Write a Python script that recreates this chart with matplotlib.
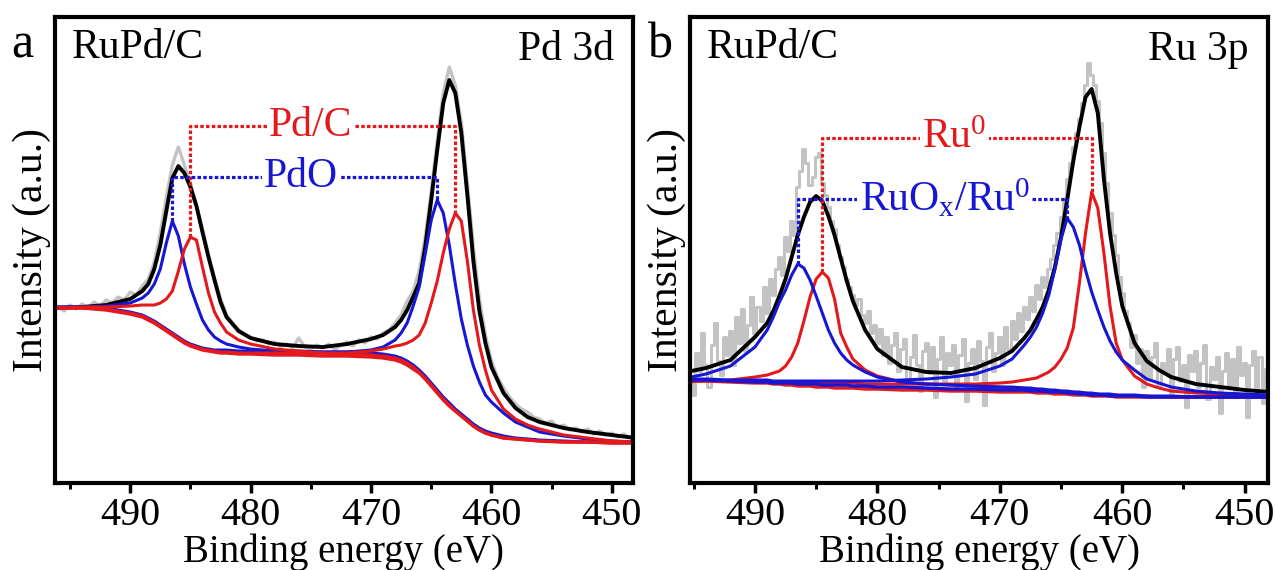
import numpy as np
import matplotlib
matplotlib.use("Agg")
import matplotlib.pyplot as plt
from matplotlib.ticker import MultipleLocator

plt.rcParams['font.family'] = ['Liberation Serif', 'DejaVu Serif']
plt.rcParams['mathtext.fontset'] = 'custom'
plt.rcParams['mathtext.rm'] = 'Liberation Serif'
plt.rcParams['mathtext.it'] = 'Liberation Serif:italic'

RED = '#e3191c'
BLUE = '#1616d4'
GRAY = '#c3c3c3'

# binding energies (eV) where the fitted curves are tabulated
fit_ev = [496, 494, 492, 490, 489, 488.5, 488, 487.5, 487, 486.5, 486, 485.5,
          485, 484.5, 484, 483.5, 483, 482.5, 482, 481, 480, 478, 476, 474,
          472, 470, 469, 468, 467.5, 467, 466.5, 466, 465.5, 465, 464.5, 464,
          463.5, 463, 462.5, 462, 461.5, 461, 460.5, 460, 459, 458, 457, 456,
          454, 452, 450, 448]
# raw spectra: Pd 3d every 0.5 eV, Ru 3p every 0.25 eV, both 496 -> 448
pd_raw_ev = np.arange(496, 447.75, -0.5)
ru_raw_ev = np.arange(496, 447.9, -0.25)

# ---- Pd 3d ----
pd_raw = [176, 172, 178, 174, 179, 175, 181, 177, 183, 180,
          186, 183, 191, 188, 197, 204, 221, 250, 286, 318,
          336, 318, 300, 278, 254, 228, 205, 184, 168, 160,
          153, 149, 146, 142, 143, 139, 141, 136, 139, 135,
          145, 136, 134, 138, 135, 139, 133, 138, 141, 137,
          143, 140, 146, 144, 150, 153, 160, 168, 182, 192,
          212, 246, 292, 342, 390, 416, 398, 360, 300, 236,
          184, 148, 122, 106, 95, 86, 79, 74, 71, 66,
          64, 60, 62, 56, 58, 53, 55, 51, 54, 49,
          52, 48, 50, 46, 49, 45, 47]
pd_envelope = [175, 176, 178, 184, 192, 199, 214, 238, 272, 305, 317, 310,
               296, 277, 251, 226, 203, 181, 166, 152, 145, 139, 137, 136,
               139, 144, 148, 156, 163, 173, 186, 200, 236, 283, 333, 380,
               403, 390, 350, 288, 222, 172, 140, 116, 90, 75, 66, 61,
               55, 51, 48, 45]
pd_background = [175, 175, 173, 169, 166, 163, 160, 156, 152, 148, 144, 140,
                 137, 135, 133, 132, 131, 130, 130, 129, 129, 128, 128, 127,
                 127, 126, 125, 123, 121, 118, 114, 110, 104, 97, 90, 83,
                 77, 72, 67, 62, 57, 53, 50, 48, 45, 44, 43, 42,
                 41, 41, 40, 40]
pd_metal_32 = [175, 176, 176, 177, 178, 178, 178, 180, 184, 192, 212, 234,
               246, 243, 216, 190, 171, 160, 151, 143, 139, 134, 132, 130,
               129, 128, 127, 125, 123, 120, 116, 111, 105, 98, 91, 84,
               78, 72, 67, 62, 57, 53, 50, 48, 45, 44, 43, 42,
               41, 41, 40, 40]
pd_metal_52 = [175, 175, 174, 170, 167, 164, 161, 157, 153, 149, 145, 141,
               138, 136, 134, 133, 132, 131, 131, 130, 130, 130, 130, 130,
               130, 132, 134, 137, 138, 140, 143, 148, 160, 180, 202, 230,
               254, 270, 262, 222, 173, 138, 113, 93, 74, 64, 58, 54,
               48, 45, 42, 41]
pdo_32 = [176, 176, 177, 180, 185, 190, 199, 214, 240, 262, 247, 219,
          196, 179, 163, 153, 146, 142, 139, 136, 134, 132, 131, 131,
          131, 130, 129, 127, 125, 122, 118, 113, 107, 100, 93, 86,
          80, 74, 69, 64, 59, 55, 52, 50, 47, 45, 44, 43,
          42, 41, 41, 40]
pdo_52 = [176, 176, 175, 171, 168, 165, 162, 158, 154, 150, 146, 142,
          139, 137, 135, 134, 133, 133, 133, 132, 132, 132, 132, 131,
          131, 133, 136, 143, 150, 160, 177, 196, 229, 263, 283, 270,
          238, 199, 164, 138, 117, 101, 88, 81, 70, 61, 56, 51,
          47, 44, 42, 41]

# ---- Ru 3p ----
ru_raw = [126, 98, 142, 104, 88, 130, 112, 150,      # 496 - 494.25
          118, 96, 138, 160, 122, 108, 146, 128,     # 494 - 492.25
          152, 118, 166, 140, 174, 132, 158, 186,    # 492 - 490.25
          150, 176, 162, 196, 170, 204, 188, 214,    # 490 - 488.25
          226, 208, 246, 232, 262, 248, 296, 312,    # 488 - 486.25
          334, 320, 298, 306, 326, 330, 300, 288,    # 486 - 484.25
          276, 262, 254, 238, 226, 216, 204, 196,    # 484 - 482.25
          188, 178, 184, 168, 160, 172, 150, 158,    # 482 - 480.25
          140, 154, 128, 146, 120, 138, 150, 112,    # 480 - 478.25
          134, 144, 104, 126, 148, 118, 92, 132,     # 478 - 476.25
          140, 110, 136, 86, 124, 146, 100, 130,     # 476 - 474.25
          118, 138, 96, 128, 144, 82, 120, 134,      # 474 - 472.25
          104, 142, 122, 78, 136, 150, 112, 130,     # 472 - 470.25
          146, 118, 156, 134, 162, 144, 170, 152,    # 470 - 468.25
          176, 164, 186, 172, 198, 184, 206, 196,    # 468 - 466.25
          214, 224, 238, 250, 266, 284, 304, 320,    # 466 - 464.25
          336, 350, 364, 380, 398, 420, 408, 398,    # 464 - 462.25
          382, 360, 330, 300, 270, 248, 228, 206,    # 462 - 460.25
          190, 172, 160, 136, 148, 120, 134, 96,     # 460 - 458.25
          132, 104, 126, 140, 98, 120, 110, 134,     # 458 - 456.25
          88, 124, 136, 102, 118, 76, 128, 112,      # 456 - 454.25
          132, 96, 120, 138, 84, 116, 104, 126,      # 454 - 452.25
          70, 112, 130, 98, 124, 86, 136, 108,       # 452 - 450.25
          120, 66, 118, 132, 94, 126, 80, 114,       # 450 - 448.25
          122]                                       # 448
ru_envelope = [110, 115, 123, 146, 160, 172, 187, 204, 226, 248, 266, 281,
               287, 282, 267, 248, 225, 202, 182, 153, 134, 116, 111, 110,
               115, 125, 132, 145, 153, 164, 176, 193, 216, 246, 283, 322,
               356, 386, 394, 370, 304, 250, 210, 177, 140, 122, 113, 106,
               99, 96, 93, 91]
ru_background_red = [102, 102, 101, 100, 100, 99, 99, 98, 98, 97, 97, 97,
                     96, 96, 96, 95, 95, 95, 95, 94, 94, 93, 93, 92,
                     92, 91, 91, 91, 91, 90, 90, 90, 89, 89, 89, 88,
                     88, 88, 87, 87, 87, 87, 86, 86, 86, 86, 86, 86,
                     86, 86, 86, 86]
ru_background_blue = [103, 103, 102, 101, 101, 100, 100, 100, 100, 99, 99, 99,
                      99, 98, 98, 98, 98, 98, 97, 97, 96, 96, 95, 94,
                      94, 93, 93, 93, 92, 92, 92, 91, 91, 91, 90, 90,
                      89, 89, 88, 88, 88, 87, 87, 87, 87, 86, 86, 86,
                      86, 86, 86, 86]
ru_metal_12 = [101, 102, 103, 106, 108, 110, 112, 117, 126, 140, 162, 186,
               204, 211, 205, 184, 150, 136, 124, 113, 107, 101, 99, 98,
               97, 96, 95, 95, 94, 94, 93, 93, 92, 92, 91, 91,
               90, 90, 89, 89, 88, 88, 88, 87, 87, 87, 86, 86,
               86, 86, 86, 86]
ru_metal_32 = [103, 103, 102, 102, 101, 101, 101, 101, 100, 100, 100, 100,
               100, 100, 100, 100, 100, 100, 100, 99, 99, 99, 99, 99,
               99, 100, 101, 103, 104, 105, 108, 111, 116, 124, 135, 155,
               200, 250, 291, 275, 230, 177, 140, 123, 107, 99, 95, 92,
               90, 89, 88, 88]
ru_oxide_12 = [104, 109, 117, 136, 153, 166, 181, 193, 208, 219, 215, 203,
               187, 170, 153, 140, 130, 123, 118, 111, 106, 101, 99, 98,
               97, 96, 96, 95, 95, 94, 94, 93, 93, 92, 92, 91,
               91, 90, 90, 89, 89, 89, 88, 88, 88, 87, 87, 87,
               86, 86, 86, 86]
ru_oxide_32 = [104, 104, 103, 103, 103, 102, 102, 102, 102, 102, 102, 102,
               102, 102, 102, 102, 102, 102, 102, 102, 102, 103, 104, 106,
               109, 117, 124, 138, 146, 156, 170, 188, 214, 244, 265, 256,
               238, 213, 191, 173, 156, 142, 131, 123, 113, 104, 100, 96,
               92, 90, 89, 88]

FS = 28


def peak_of(curve):
    i = int(np.argmax(curve))
    return fit_ev[i], curve[i]


def link(ax, first, second, level, text, text_ev, color):
    """Dotted bracket joining the two spin-orbit peaks of one species."""
    (e1, y1), (e2, y2) = peak_of(first), peak_of(second)
    ax.plot([e1, e1, e2, e2], [y1, level, level, y2], color=color, lw=2.3,
            dashes=(1.1, 0.7), zorder=6)
    ax.text(text_ev, level, text, color=color, fontsize=30, ha='center',
            va='center', zorder=7,
            bbox=dict(facecolor='white', edgecolor='none', pad=1.5))


def style_axes(ax, xlim, sample, line):
    ax.set_xlim(*xlim)
    ax.set_ylim(0, 466)
    ax.set_yticks([])
    ax.set_xticks([490, 480, 470, 460, 450])
    ax.xaxis.set_minor_locator(MultipleLocator(5))
    ax.tick_params(axis='x', which='major', direction='out', length=7,
                   width=2.5, labelsize=29, pad=3)
    ax.tick_params(axis='x', which='minor', direction='out', length=4,
                   width=2.2)
    for sp in ax.spines.values():
        sp.set_linewidth(3)
    ax.set_xlabel('Binding energy (eV)', fontsize=FS, labelpad=0)
    ax.set_ylabel('Intensity (a.u.)', fontsize=30, labelpad=3)
    ax.text(0.029, 0.935, sample, transform=ax.transAxes, fontsize=30,
            ha='left', va='center')
    ax.text(0.967, 0.93, line, transform=ax.transAxes, fontsize=30,
            ha='right', va='center')


fig = plt.figure(figsize=(12.75, 5.7), dpi=100)
ax1 = fig.add_axes([0.0431, 0.1526, 0.4533, 0.8175])
ax2 = fig.add_axes([0.5412, 0.1526, 0.4533, 0.8175])

# Pd 3d
ax1.plot(pd_raw_ev, pd_raw, color=GRAY, lw=2.4)
ax1.plot(fit_ev, pd_envelope, color='black', lw=2.8)
ax1.plot(fit_ev, pdo_32, color=BLUE, lw=2.2)
ax1.plot(fit_ev, pdo_52, color=BLUE, lw=2.2)
ax1.plot(fit_ev, pd_metal_32, color=RED, lw=2.2)
ax1.plot(fit_ev, pd_metal_52, color=RED, lw=2.2)
ax1.plot(fit_ev, pd_background, color=RED, lw=2.4)
link(ax1, pd_metal_32, pd_metal_52, 357, 'Pd/C', 475.0, RED)
link(ax1, pdo_32, pdo_52, 306, 'PdO', 475.8, BLUE)
style_axes(ax1, (496.25, 448.25), 'RuPd/C', 'Pd 3d')

# Ru 3p
ax2.plot(ru_raw_ev, ru_raw, color=GRAY, lw=2.2, drawstyle='steps-mid')
ax2.plot(fit_ev, ru_envelope, color='black', lw=2.8)
ax2.plot(fit_ev, ru_background_red, color=RED, lw=2.4)
ax2.plot(fit_ev, ru_metal_12, color=RED, lw=2.2)
ax2.plot(fit_ev, ru_metal_32, color=RED, lw=2.2)
ax2.plot(fit_ev, ru_background_blue, color=BLUE, lw=2.4)
ax2.plot(fit_ev, ru_oxide_12, color=BLUE, lw=2.2)
ax2.plot(fit_ev, ru_oxide_32, color=BLUE, lw=2.2)
link(ax2, ru_metal_12, ru_metal_32, 345, r'Ru$^\mathregular{0}$', 473.7, RED)
link(ax2, ru_oxide_12, ru_oxide_32, 284,
     r'RuO$_\mathregular{x}$/Ru$^\mathregular{0}$', 474.5, BLUE)
style_axes(ax2, (495.3, 448.1), 'RuPd/C', 'Ru 3p')

fig.text(0.0175, 0.92, 'a', fontsize=36, ha='center', va='center')
fig.text(0.518, 0.92, 'b', fontsize=36, ha='center', va='center')

fig.savefig('out.png', dpi=100)
